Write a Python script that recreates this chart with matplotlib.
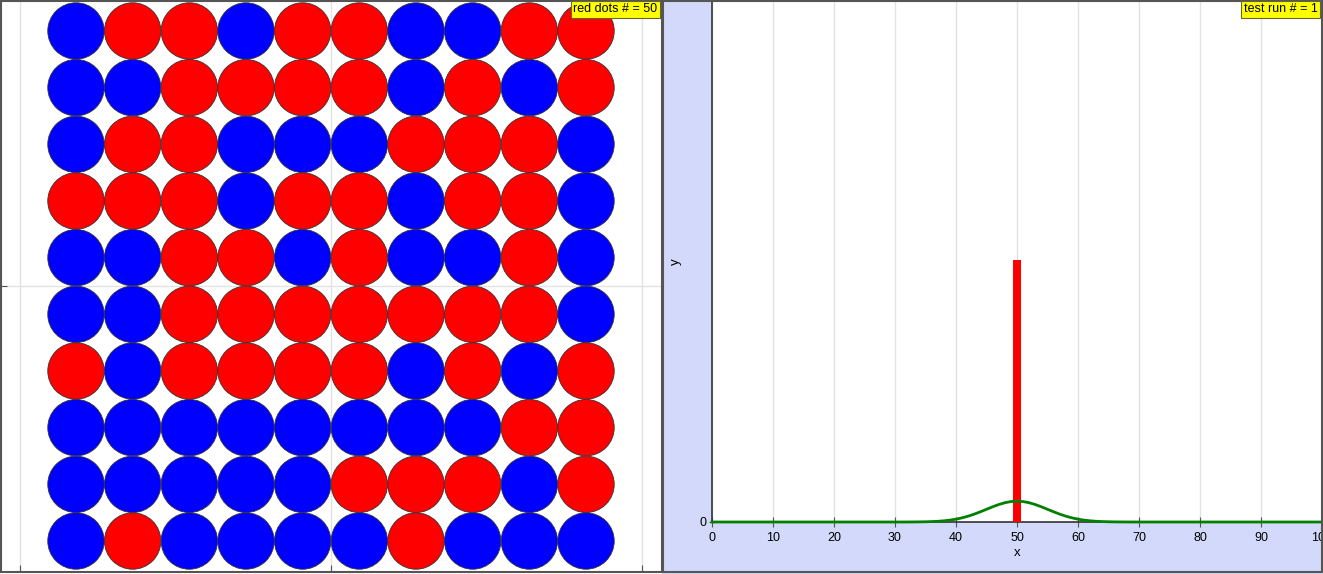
import matplotlib
matplotlib.use("Agg")
import matplotlib.pyplot as plt
from matplotlib.patches import Circle, Rectangle

plt.rcParams['font.family'] = ['Liberation Sans', 'DejaVu Sans']

# ---------------- data ----------------
# dot colours, rows top -> bottom, columns left -> right (R = red, B = blue)
dot_rows = [
    "BRRBRRBBRR",
    "BBRRRRBRBR",
    "BRRBBBRRRB",
    "RRRBRRBRRB",
    "BBRRBRBBRB",
    "BBRRRRRRRB",
    "RBRRRRBRBR",
    "BBBBBBBBRR",
    "BBBBBRRRBR",
    "BRBBBBRBBB",
]
red_count = sum(r.count("R") for r in dot_rows)
test_runs = 1

# histogram of red-dot counts (fraction of test runs)
hist_x = [50]
hist_y = [1.0]

# expected distribution (binomial n=100, p=0.5) at integer counts
curve_x = [0, 30, 31, 32, 33, 34, 35, 36, 37, 38, 39, 40, 41, 42, 43, 44, 45, 46, 47, 48, 49,
           50, 51, 52, 53, 54, 55, 56, 57, 58, 59, 60, 61, 62, 63, 64, 65, 66, 67, 68, 69, 70, 100]
curve_y = [0, 0.0000, 0.0000, 0.0001, 0.0002, 0.0005, 0.0009, 0.0016, 0.0027, 0.0045, 0.0071,
           0.0108, 0.0159, 0.0223, 0.0301, 0.0390, 0.0485, 0.0580, 0.0666, 0.0735, 0.0780,
           0.0796, 0.0780, 0.0735, 0.0666, 0.0580, 0.0485, 0.0390, 0.0301, 0.0223, 0.0159,
           0.0108, 0.0071, 0.0045, 0.0027, 0.0016, 0.0009, 0.0005, 0.0002, 0.0001, 0.0000,
           0.0000, 0]

x_ticks = list(range(0, 101, 10))

# ---------------- layout ----------------
W, H = 1323, 574
fig = plt.figure(figsize=(W / 100, H / 100), dpi=100)
fig.patch.set_facecolor('white')


def fx(px):
    return px / W


def fy(py):
    return 1 - py / H


# right panel background
fig.add_artist(Rectangle((fx(662), fy(574)), fx(1323) - fx(662), 1,
                         transform=fig.transFigure, fc='#d3d9fa', ec='none', zorder=0))

# ---------------- left panel: dots ----------------
ax1 = fig.add_axes([fx(0), fy(572), fx(662), fy(0) - fy(572)])
unit = 311.0
ax1.set_facecolor('white')
ax1.set_xticks([-1, 0, 1])
ax1.set_yticks([-1, 0, 1])
ax1.set_xticklabels([])
ax1.set_yticklabels([])
ax1.set_xlim(-331 / unit, 331 / unit)
ax1.set_ylim(-286 / unit, 286 / unit)
ax1.tick_params(direction='in', length=5, color='#555555')
ax1.grid(True, color='#e2e2e2', lw=1)
ax1.set_axisbelow(True)
for s in ax1.spines.values():
    s.set_visible(False)

cell = 56.67 / unit
for r, row in enumerate(dot_rows):
    for c, ch in enumerate(row):
        cx = (c - 4.5) * cell
        cy = (4.5 - r) * cell
        col = '#ff0000' if ch == 'R' else '#0000ff'
        ax1.add_patch(Circle((cx, cy), cell / 2 * 0.995, fc=col, ec='#333333', lw=0.6, zorder=3))

# ---------------- right panel: histogram ----------------
ax2 = fig.add_axes([fx(712), fy(522), fx(1322) - fx(712), fy(0) - fy(522)])
ax2.set_facecolor('white')
ax2.bar(hist_x, hist_y, width=1.4, color='#ff0000', zorder=3)
ax2.plot(curve_x, curve_y, color='#008000', lw=2, zorder=4, clip_on=False)
ax2.set_xticks(x_ticks)
ax2.set_yticks([0])
ax2.set_xlim(0, 100)
ax2.set_ylim(0, 1.992)
ax2.tick_params(axis='both', direction='inout', length=7, color='#555555', labelsize=9,
                labelcolor='black')
ax2.tick_params(axis='x', pad=4)
ax2.tick_params(axis='y', pad=1.5, length=5)
ax2.grid(True, axis='x', color='#e2e2e2', lw=1)
ax2.set_axisbelow(True)
for k in ('top', 'right'):
    ax2.spines[k].set_visible(False)
for k in ('left', 'bottom'):
    ax2.spines[k].set_color('#333333')
    ax2.spines[k].set_linewidth(1.2)
ax2.set_xlabel('x', fontsize=9.5)
ax2.set_ylabel('y', fontsize=9.5)
ax2.xaxis.label.set_va('center')
ax2.yaxis.label.set_va('center')
ax2.xaxis.set_label_coords(0.5, -(553 - 522) / 522)
ax2.yaxis.set_label_coords((676 - 712) / 610, (522 - 262) / 522)

# ---------------- panel frames ----------------
fig.add_artist(Rectangle((fx(0.8), fy(571.5)), fx(661.5) - fx(0.8), fy(0.5) - fy(571.5),
                         transform=fig.transFigure, fc='none', ec='#555555', lw=1.5, zorder=10))
fig.add_artist(Rectangle((fx(662.5), fy(571.5)), fx(1322) - fx(662.5), fy(0.5) - fy(571.5),
                         transform=fig.transFigure, fc='none', ec='#555555', lw=1.5, zorder=10))

# ---------------- labels ----------------
pad_px = 0.2 * 9 * 100 / 72
fig.text(fx(660 - pad_px), fy(1 + pad_px), f'red dots # = {red_count}', ha='right', va='top',
         fontsize=9, zorder=11,
         bbox=dict(boxstyle='square,pad=0.2', fc='#ffff00', ec='#666633', lw=0.8))
fig.text(fx(1320 - pad_px), fy(1 + pad_px), f'test run # = {test_runs}', ha='right', va='top',
         fontsize=9, zorder=11,
         bbox=dict(boxstyle='square,pad=0.2', fc='#ffff00', ec='#666633', lw=0.8))

fig.savefig('out.png', dpi=100)
